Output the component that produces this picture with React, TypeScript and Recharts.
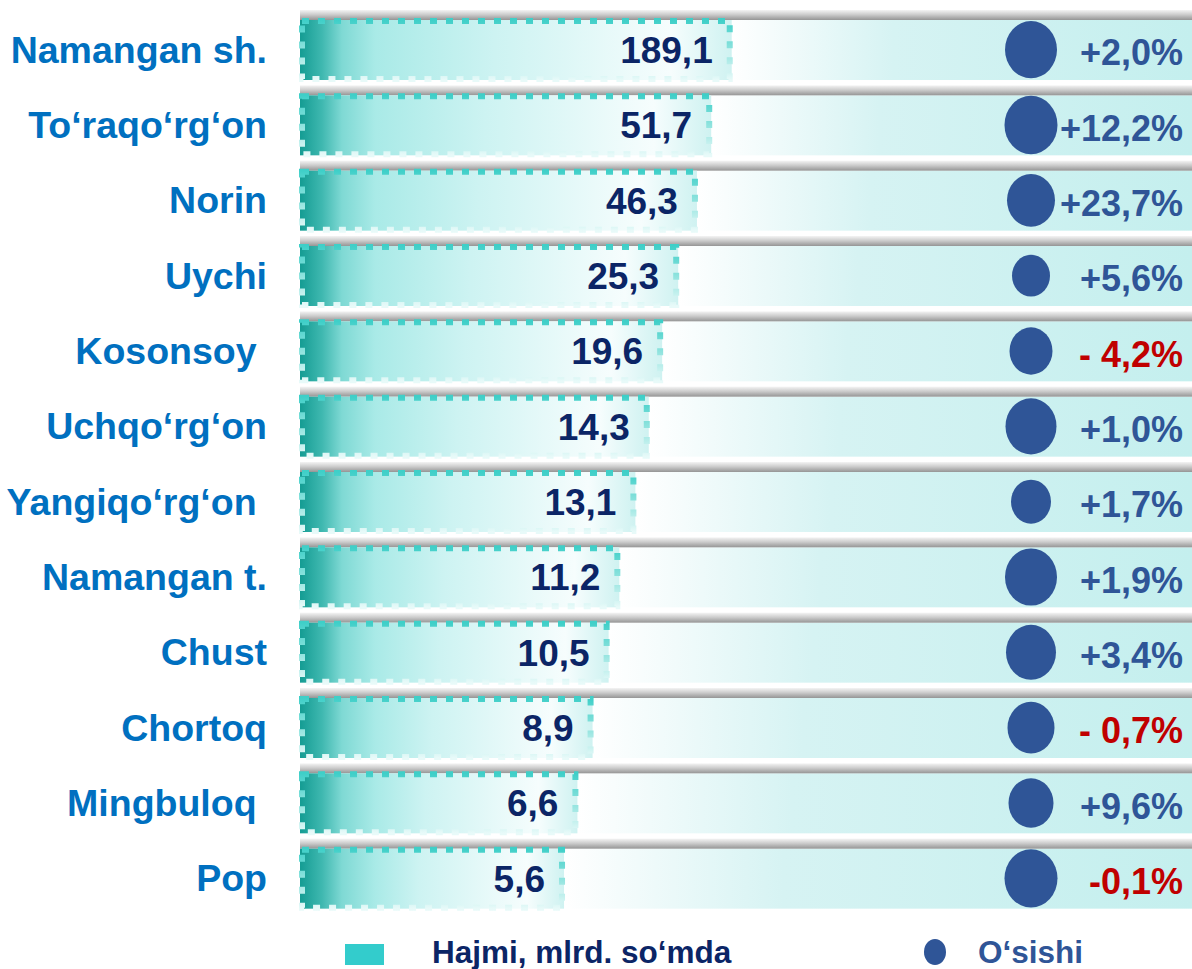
import { Bar, ComposedChart, LabelList, Scatter, XAxis, YAxis, ZAxis } from "recharts";

const districts = [
  "Namangan sh.",
  "To‘raqo‘rg‘on",
  "Norin",
  "Uychi",
  "Kosonsoy ",
  "Uchqo‘rg‘on",
  "Yangiqo‘rg‘on ",
  "Namangan t.",
  "Chust",
  "Chortoq",
  "Mingbuloq ",
  "Pop",
];

// hajmi, mlrd. so'mda
const volume = [189.1, 51.7, 46.3, 25.3, 19.6, 14.3, 13.1, 11.2, 10.5, 8.9, 6.6, 5.6];

// bar length as drawn on the slide, % of the row (the slide does not scale bars by volume)
const barShare = [48.4, 46.1, 44.5, 42.4, 40.6, 39.1, 37.6, 35.8, 34.6, 32.8, 31.1, 29.6];

// o'sishi
const growthLabels = [
  "+2,0%",
  "+12,2%",
  "+23,7%",
  "+5,6%",
  "- 4,2%",
  "+1,0%",
  "+1,7%",
  "+1,9%",
  "+3,4%",
  "- 0,7%",
  "+9,6%",
  "-0,1%",
];

// bubble diameters as drawn
const bubbleSize = [52, 53, 48, 38, 43, 51, 40, 52, 50, 47, 45, 53];

const SERIES_DOT = "O‘sishi";

const rows = districts.map((name, i) => ({
  name,
  share: barShare[i],
  label: volume[i].toFixed(1).replace(".", ","),
  pct: growthLabels[i],
  area: bubbleSize[i] * bubbleSize[i],
  series: SERIES_DOT,
}));

const FONT = "'Liberation Sans', Arial, sans-serif";
const NAVY = "#0b2566";
const BLUE = "#0070c0";
const DOT = "#2f5597";
const RED = "#c00000";

const renderName = (props: any) => {
  const { x, y, payload } = props;
  return (
    <text
      x={x}
      y={y}
      textAnchor="end"
      dominantBaseline="central"
      fill={BLUE}
      fontSize={37.5}
      fontWeight="bold"
      fontFamily={FONT}
      style={{ whiteSpace: "pre" }}
    >
      {payload.value}
    </text>
  );
};

const renderPct = (props: any) => {
  const { y, payload } = props;
  const neg = String(payload.value).startsWith("-");
  return (
    <text
      x={1183}
      y={y + 3}
      textAnchor="end"
      dominantBaseline="central"
      fill={neg ? RED : DOT}
      fontSize={36}
      fontWeight="bold"
      fontFamily={FONT}
      style={{ whiteSpace: "pre" }}
    >
      {payload.value}
    </text>
  );
};

const renderTrack = (props: any) => {
  const { x, y, width, height, payload, index } = props;
  const end = x + (width * payload.share) / 100;
  const id = `track-${index}`;
  return (
    <g key={id}>
      <defs>
        <linearGradient id={id} gradientUnits="userSpaceOnUse" x1={end} x2={x + width} y1={0} y2={0}>
          <stop offset="0" stopColor="#ffffff" />
          <stop offset="0.35" stopColor="#d6f3f3" />
          <stop offset="1" stopColor="#c4efee" />
        </linearGradient>
        <linearGradient id={`shadow-${index}`} x1="0" x2="0" y1="0" y2="1">
          <stop offset="0" stopColor="#f4f4f4" />
          <stop offset="0.45" stopColor="#cdcdcd" />
          <stop offset="1" stopColor="#959595" />
        </linearGradient>
      </defs>
      <rect x={end} y={y} width={x + width - end} height={height} fill={`url(#${id})`} />
      <rect x={x} y={y - 10} width={width} height={10} fill={`url(#shadow-${index})`} />
    </g>
  );
};

const renderBar = (props: any) => {
  const { x, y, width, height, index } = props;
  const fid = `barfill-${index}`;
  const sid = `barstroke-${index}`;
  const dark = Math.min(0.3, 22 / width);
  const mid = Math.min(0.35, 42 / width);
  const light = Math.min(0.4, 75 / width);
  return (
    <g>
      <defs>
        <linearGradient id={fid} gradientUnits="userSpaceOnUse" x1={x} x2={x + width} y1={0} y2={0}>
          <stop offset="0" stopColor="#149c93" />
          <stop offset={dark} stopColor="#3fb8b0" />
          <stop offset={mid} stopColor="#7fd9d4" />
          <stop offset={light} stopColor="#a9eae7" />
          <stop offset="0.45" stopColor="#cdf3f2" />
          <stop offset="0.86" stopColor="#f6fdfd" />
          <stop offset="1" stopColor="#cff2f1" />
        </linearGradient>
        <linearGradient id={sid} gradientUnits="userSpaceOnUse" x1={0} x2={0} y1={y} y2={y + height}>
          <stop offset="0" stopColor="#3fcfc8" />
          <stop offset="0.5" stopColor="#8fe3de" />
          <stop offset="1" stopColor="#e8faf9" />
        </linearGradient>
      </defs>
      <rect x={x} y={y} width={width} height={height} fill={`url(#${fid})`} />
      <rect
        x={x + 2}
        y={y + 1}
        width={width - 4}
        height={height - 2}
        fill="none"
        stroke={`url(#${sid})`}
        strokeWidth={6}
        strokeDasharray="7 9"
      />
    </g>
  );
};

const renderDot = (props: any) => {
  const { cx, cy, size, payload } = props;
  const r = size ? Math.sqrt(size / Math.PI) : Math.sqrt(payload.area) / 2;
  return <ellipse cx={cx} cy={cy} rx={r} ry={r * 1.1} fill={DOT} />;
};

export default function App() {
  return (
    <div style={{ position: "absolute", left: 0, top: 0, width: 1192, height: 969, fontFamily: FONT, background: "#fff" }}>
      <ComposedChart
        layout="vertical"
        width={1192}
        height={918}
        data={rows}
        margin={{ top: 12, right: 0, bottom: 2, left: 0 }}
        barSize={60}
      >
        <XAxis xAxisId="len" type="number" domain={[0, 100]} hide />
        <XAxis
          xAxisId="dot"
          type="category"
          dataKey="series"
          allowDuplicatedCategory={false}
          padding={{ left: 570, right: 0 }}
          hide
        />
        <YAxis
          yAxisId="cat"
          type="category"
          dataKey="name"
          width={300}
          axisLine={false}
          tickLine={false}
          tickSize={0}
          tickMargin={33}
          interval={0}
          tick={renderName}
        />
        <YAxis
          yAxisId="pct"
          type="category"
          dataKey="pct"
          orientation="right"
          mirror
          axisLine={false}
          tickLine={false}
          tickSize={0}
          tickMargin={10}
          interval={0}
          tick={renderPct}
        />
        <ZAxis dataKey="area" type="number" domain={[0, 3000]} range={[0, (3000 * Math.PI) / 4]} />
        <Bar
          xAxisId="len"
          yAxisId="cat"
          dataKey="share"
          background={renderTrack}
          shape={renderBar}
          isAnimationActive={false}
        >
          <LabelList
            dataKey="label"
            position="insideRight"
            offset={19}
            fill={NAVY}
            fontSize={37}
            fontWeight="bold"
          />
        </Bar>
        <Scatter
          xAxisId="dot"
          yAxisId="cat"
          dataKey="series"
          shape={renderDot}
          isAnimationActive={false}
        />
      </ComposedChart>

      <div style={{ position: "relative", width: 1192, height: 51 }}>
        <div style={{ position: "absolute", left: 345, top: 26, width: 39, height: 21, background: "#33cccc" }} />
        <div
          style={{
            position: "absolute",
            left: 432,
            top: 19,
            lineHeight: "30px",
            fontSize: 31.5,
            fontWeight: "bold",
            color: NAVY,
            whiteSpace: "nowrap",
          }}
        >
          Hajmi, mlrd. so‘mda
        </div>
        <div
          style={{
            position: "absolute",
            left: 924,
            top: 21,
            width: 22,
            height: 26,
            borderRadius: "50%",
            background: DOT,
          }}
        />
        <div
          style={{
            position: "absolute",
            left: 978,
            top: 19,
            lineHeight: "30px",
            fontSize: 31.5,
            fontWeight: "bold",
            color: DOT,
            whiteSpace: "nowrap",
          }}
        >
          {SERIES_DOT}
        </div>
      </div>
    </div>
  );
}
